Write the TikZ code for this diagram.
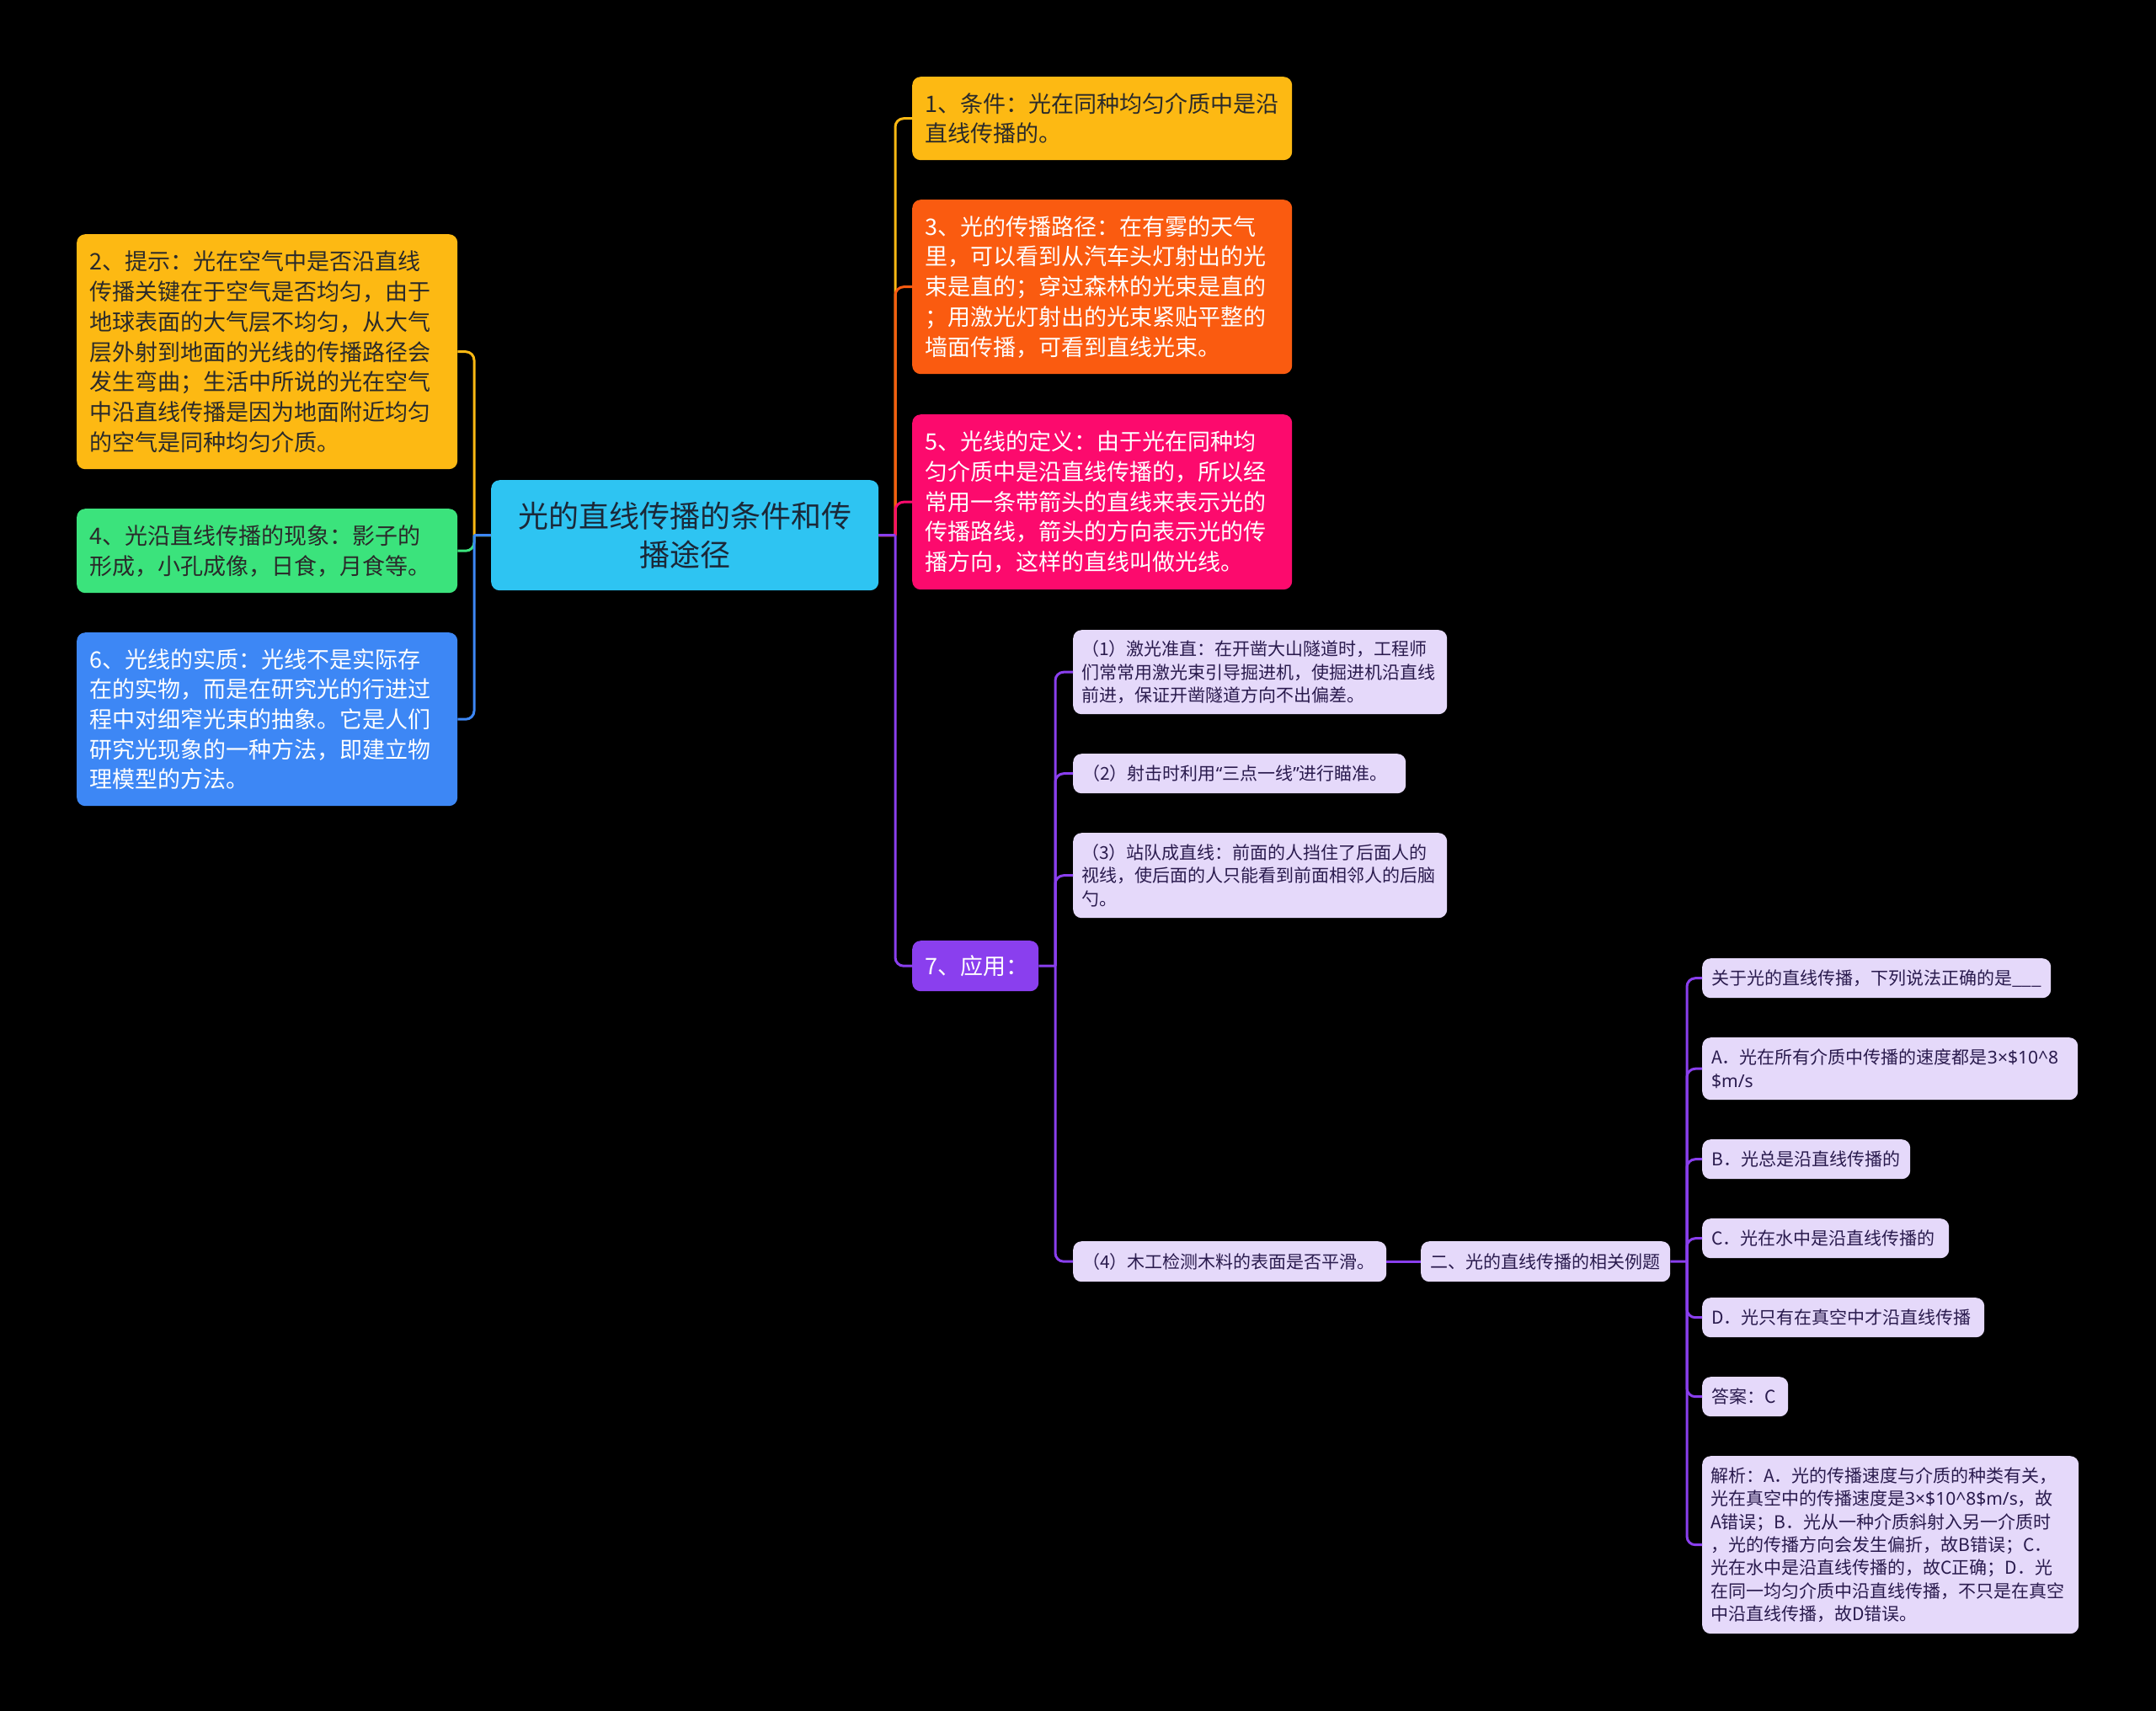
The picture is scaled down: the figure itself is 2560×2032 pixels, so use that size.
\documentclass[tikz,border=0pt]{standalone}
\usepackage{fontspec}
\setmainfont{Noto Sans CJK SC}
\newfontfamily\latf{Noto Sans}
\newcommand{\lat}[1]{{\latf #1}}
\definecolor{cyanroot}{HTML}{2EC4F2}
\definecolor{ylw}{HTML}{FDB913}
\definecolor{org}{HTML}{FA5B10}
\definecolor{pnk}{HTML}{FC0A6D}
\definecolor{grn}{HTML}{3BE37C}
\definecolor{blu}{HTML}{3D87F5}
\definecolor{prp}{HTML}{8A3FEE}
\definecolor{lav}{HTML}{E5D9FA}
\definecolor{darktxt}{HTML}{2A2A2A}
\definecolor{roottxt}{HTML}{1B2838}
\definecolor{subtxt}{HTML}{2A1B4E}
\tikzset{
  box/.style={anchor=north west, rounded corners=10pt, inner xsep=15pt, inner ysep=0pt,
    align=left, font=\fontsize{27}{35.7}\selectfont},
  mainbox/.style={box, text=white},
  subbox/.style={box, fill=lav, text=subtxt, inner xsep=11pt, font=\fontsize{21}{27.3}\selectfont},
  link/.style={line width=3pt},
  clink/.style={line width=3pt, rounded corners=10pt},
}
\begin{document}
\begin{tikzpicture}[x=1pt,y=-1pt]
\fill[black] (0,0) rectangle (2560,2032);
\useasboundingbox (0,0) rectangle (2560,2032);

% root
\node[box, fill=cyanroot, text=roottxt, align=center, text width=430pt, minimum height=131pt,
  font=\fontsize{36}{46}\selectfont] (root) at (583,570)
  {光的直线传播的条件和传\\播途径};

% right main nodes
\node[box, fill=ylw, text=darktxt, text width=421pt, minimum height=99pt] (n1) at (1083,91)
  {1、条件：光在同种均匀介质中是沿\\直线传播的。};
\node[mainbox, fill=org, text width=421pt, minimum height=207pt] (n3) at (1083,237)
  {3、光的传播路径：在有雾的天气\\里，可以看到从汽车头灯射出的光\\束是直的；穿过森林的光束是直的\\；用激光灯射出的光束紧贴平整的\\墙面传播，可看到直线光束。};
\node[mainbox, fill=pnk, text width=421pt, minimum height=208pt] (n5) at (1083,492)
  {5、光线的定义：由于光在同种均\\匀介质中是沿直线传播的，所以经\\常用一条带箭头的直线来表示光的\\传播路线，箭头的方向表示光的传\\播方向，这样的直线叫做光线。};
\node[mainbox, fill=prp, align=center, text width=120pt, minimum height=60pt] (n7) at (1083,1117)
  {7、应用：};

% left main nodes
\node[box, fill=ylw, text=darktxt, text width=422pt, minimum height=279pt] (n2) at (91,278)
  {2、提示：光在空气中是否沿直线\\传播关键在于空气是否均匀，由于\\地球表面的大气层不均匀，从大气\\层外射到地面的光线的传播路径会\\发生弯曲；生活中所说的光在空气\\中沿直线传播是因为地面附近均匀\\的空气是同种均匀介质。};
\node[box, fill=grn, text=darktxt, text width=422pt, minimum height=100pt] (n4) at (91,604)
  {4、光沿直线传播的现象：影子的\\形成，小孔成像，日食，月食等。};
\node[mainbox, fill=blu, text width=422pt, minimum height=206pt] (n6) at (91,751)
  {6、光线的实质：光线不是实际存\\在的实物，而是在研究光的行进过\\程中对细窄光束的抽象。它是人们\\研究光现象的一种方法，即建立物\\理模型的方法。};

% application sub nodes
\node[subbox, text width=424pt, inner xsep=10pt, minimum height=100pt] (s1) at (1274,748)
  {（1）激光准直：在开凿大山隧道时，工程师\\们常常用激光束引导掘进机，使掘进机沿直线\\前进，保证开凿隧道方向不出偏差。};
\node[subbox, text width=373pt, minimum height=47pt] (s2) at (1274,895)
  {（2）射击时利用\lat{“}三点一线\lat{”}进行瞄准。};
\node[subbox, text width=424pt, inner xsep=10pt, minimum height=101pt] (s3) at (1274,989)
  {（3）站队成直线：前面的人挡住了后面人的\\视线，使后面的人只能看到前面相邻人的后脑\\勺。};
\node[subbox, text width=350pt, minimum height=48pt] (s4) at (1274,1474)
  {（4）木工检测木料的表面是否平滑。};
\node[subbox, text width=274pt, minimum height=48pt] (ex) at (1687,1474)
  {二、光的直线传播的相关例题};

% example nodes
\node[subbox, text width=392pt, minimum height=47pt] (q) at (2021,1138)
  {关于光的直线传播，下列说法正确的是\_\_\_};
\node[subbox, text width=424pt, minimum height=74pt] (a) at (2021,1232)
  {A．光在所有介质中传播的速度都是\lat{3×\$10\textasciicircum{}8}\\\lat{\$m/s}};
\node[subbox, text width=225pt, minimum height=47pt] (b) at (2021,1353)
  {B．光总是沿直线传播的};
\node[subbox, text width=271pt, minimum height=47pt] (c) at (2021,1447)
  {C．光在水中是沿直线传播的};
\node[subbox, text width=313pt, minimum height=47pt] (d) at (2021,1541)
  {D．光只有在真空中才沿直线传播};
\node[subbox, text width=80pt, minimum height=47pt] (ans) at (2021,1635)
  {答案：C};
\node[subbox, text width=427pt, inner xsep=10pt, minimum height=211pt] (exp) at (2021,1729)
  {解析：A．光的传播速度与介质的种类有关，\\光在真空中的传播速度是\lat{3×\$10\textasciicircum{}8\$m/s}，故\\A错误；B．光从一种介质斜射入另一介质时\\，光的传播方向会发生偏折，故B错误；C．\\光在水中是沿直线传播的，故C正确；D．光\\在同一均匀介质中沿直线传播，不只是在真空\\中沿直线传播，故D错误。};

% bus coordinates
\coordinate (rb) at (1063,635.5);
\coordinate (lb) at (563,635.5);
\coordinate (sb) at (1253,1147);
\coordinate (eb) at (2003,1498);

% right branches
\draw[link, ylw] (root.east) -- (rb);
\draw[clink, ylw] (rb) |- (n1.west);
\draw[link, org] (root.east) -- (rb);
\draw[clink, org] (rb) |- (n3.west);
\draw[link, pnk] (root.east) -- (rb);
\draw[clink, pnk] (rb) |- (n5.west);
\draw[link, prp] (root.east) -- (rb);
\draw[clink, prp] (rb) |- (n7.west);

% left branches
\draw[link, ylw] (root.west) -- (lb);
\draw[clink, ylw] (lb) |- (n2.east);
\draw[link, grn] (root.west) -- (lb);
\draw[clink, grn] (lb) |- (n4.east);
\draw[link, blu] (root.west) -- (lb);
\draw[clink, blu] (lb) |- (n6.east);

% application branches
\draw[link, prp] (n7.east) -- (sb);
\draw[clink, prp] (sb) |- (s1.west);
\draw[clink, prp] (sb) |- (s2.west);
\draw[clink, prp] (sb) |- (s3.west);
\draw[clink, prp] (sb) |- (s4.west);
\draw[link, prp] (s4.east) -- (ex.west);

% example branches
\draw[link, prp] (ex.east) -- (eb);
\foreach \k in {q,a,b,c,d,ans,exp}{
  \draw[clink, prp] (eb) |- (\k.west);
}
\end{tikzpicture}
\end{document}
